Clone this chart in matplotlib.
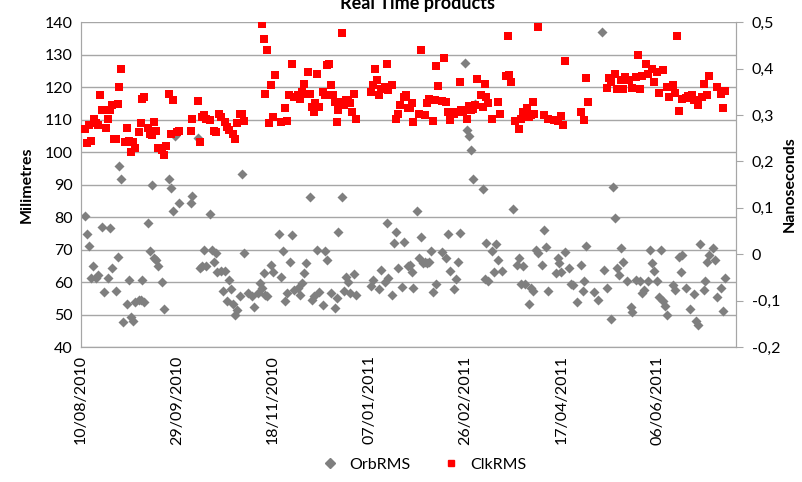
import numpy as np
import matplotlib
matplotlib.use('Agg')
import matplotlib.pyplot as plt
import matplotlib.dates as mdates
from matplotlib.ticker import FuncFormatter, MultipleLocator
from matplotlib.lines import Line2D

plt.rcParams['font.family'] = ['Lato', 'DejaVu Sans']

start = np.datetime64('2010-08-10')

# OrbRMS (mm), day offsets from 10/08/2010
orb_day = [2, 3, 4, 5, 6, 8, 9, 11, 12, 14, 15, 16, 18, 19, 20, 21, 22, 24, 25, 26,
           27, 28, 30, 31, 32, 33, 35, 36, 37, 38, 39, 40, 42, 43, 46, 47, 48, 49, 51, 57,
           58, 61, 62, 63, 64, 65, 67, 68, 69, 70, 71, 73, 74, 75, 76, 77, 78, 79, 80, 81,
           83, 84, 85, 87, 89, 90, 92, 93, 94, 95, 96, 97, 99, 100, 103, 104, 105, 106, 107, 109,
           110, 111, 113, 114, 115, 116, 117, 119, 120, 121, 123, 124, 126, 127, 128, 130, 132, 133, 134, 136,
           137, 138, 139, 140, 142, 143, 151, 152, 155, 156, 158, 159, 160, 162, 163, 164, 165, 167, 168, 170,
           171, 172, 173, 175, 176, 177, 178, 179, 180, 181, 182, 183, 185, 188, 190, 191, 192, 194, 195, 196,
           197, 200, 201, 202, 203, 204, 205, 209, 210, 211, 212, 214, 215, 216, 217, 219, 225, 227, 228, 229,
           230, 231, 233, 234, 235, 237, 238, 240, 241, 242, 243, 247, 248, 249, 250, 252, 254, 255, 256, 258,
           260, 261, 262, 263, 267, 269, 271, 272, 274, 276, 277, 278, 279, 280, 281, 282, 284, 286, 287, 289,
           291, 292, 293, 295, 296, 297, 298, 300, 301, 302, 303, 304, 305, 308, 309, 311, 312, 313, 315, 317,
           319, 320, 321, 322, 324, 325, 326, 327, 329, 330, 331, 333, 334, 335]
orb_mm = [80.3, 74.7, 71.1, 61.4, 64.8, 61.2, 62.2, 76.8, 56.8, 61.4, 76.7, 64.3, 57.1, 67.8, 95.8, 91.7, 47.6, 53.2, 60.5, 49.4,
          48.1, 54.0, 54.5, 54.5, 60.7, 54.0, 78.1, 69.6, 89.8, 67.5, 66.8, 64.8, 59.9, 51.8, 91.6, 89.1, 82.0, 105.0, 84.4, 84.2,
          86.5, 104.5, 64.3, 64.8, 69.9, 64.8, 80.8, 69.9, 66.3, 68.9, 63.2, 63.4, 57.4, 63.4, 54.2, 60.7, 57.9, 53.2, 49.9, 51.5,
          55.6, 93.4, 68.9, 56.6, 55.6, 52.2, 56.6, 59.7, 58.1, 62.7, 55.9, 55.6, 65.3, 63.2, 74.9, 61.7, 69.6, 54.2, 56.6, 66.3,
          74.5, 57.6, 58.1, 56.1, 59.7, 62.7, 65.8, 86.3, 54.5, 55.6, 69.9, 56.9, 53.0, 69.6, 66.8, 56.6, 52.0, 55.0, 75.5, 86.3,
          57.1, 61.7, 60.1, 56.6, 62.4, 56.1, 58.9, 60.7, 57.9, 63.7, 60.1, 78.1, 61.2, 56.1, 71.9, 75.3, 64.3, 58.6, 72.2, 64.8,
          65.1, 63.2, 58.3, 81.9, 67.5, 74.0, 65.8, 66.3, 65.8, 66.3, 69.6, 56.9, 59.3, 69.4, 67.5, 74.7, 63.5, 57.9, 61.0, 66.3,
          75.1, 127.4, 106.7, 105.0, 100.6, 91.7, 114.9, 88.6, 60.9, 72.1, 60.2, 69.7, 63.2, 71.6, 66.8, 63.4, 82.5, 65.3, 67.3, 59.3,
          64.8, 59.3, 53.2, 58.1, 57.1, 69.9, 68.9, 65.1, 76.0, 70.9, 57.1, 62.7, 67.5, 65.8, 63.0, 69.4, 64.3, 59.3, 59.1, 53.8,
          65.1, 57.3, 60.4, 71.2, 56.9, 54.5, 136.9, 63.7, 58.3, 48.7, 89.3, 79.6, 64.3, 62.2, 70.6, 66.1, 60.2, 52.2, 50.7, 60.7,
          60.2, 56.6, 57.6, 60.4, 69.8, 65.8, 63.4, 60.4, 55.3, 69.9, 54.2, 52.5, 49.9, 59.1, 57.6, 67.8, 63.2, 68.4, 58.3, 51.8,
          56.3, 48.1, 46.9, 71.6, 57.6, 60.4, 66.1, 68.4, 70.6, 66.8, 55.3, 58.3, 51.1, 61.4]

# ClkRMS (ns)
clk_day = [2, 3, 4, 5, 7, 8, 9, 10, 11, 13, 14, 15, 16, 17, 18, 19, 20, 21, 23, 24,
           25, 26, 27, 28, 30, 31, 32, 33, 35, 36, 37, 38, 39, 40, 42, 43, 44, 46, 47, 48,
           50, 51, 57, 58, 61, 62, 63, 64, 65, 67, 69, 70, 72, 73, 75, 76, 77, 79, 80, 81,
           83, 84, 85, 94, 95, 96, 97, 98, 99, 100, 101, 104, 106, 107, 108, 110, 111, 113, 114, 115,
           116, 117, 118, 119, 120, 121, 122, 123, 124, 126, 127, 128, 129, 130, 131, 132, 133, 134, 135, 136,
           137, 138, 139, 140, 141, 142, 143, 151, 152, 153, 154, 155, 156, 158, 159, 160, 162, 164, 165, 166,
           168, 169, 170, 171, 172, 173, 176, 177, 179, 180, 181, 183, 184, 185, 186, 188, 189, 190, 191, 192,
           194, 195, 197, 198, 199, 201, 202, 203, 204, 205, 206, 208, 209, 210, 211, 212, 214, 217, 218, 221,
           222, 223, 224, 226, 228, 229, 230, 232, 233, 234, 235, 236, 238, 241, 243, 246, 248, 250, 251, 252,
           260, 262, 263, 264, 274, 275, 276, 278, 279, 281, 282, 283, 285, 287, 289, 290, 291, 292, 294, 295,
           297, 298, 300, 301, 303, 305, 306, 308, 309, 310, 311, 313, 315, 316, 318, 319, 321, 323, 324, 326,
           327, 331, 333, 334, 335]
clk_ns = [0.269, 0.240, 0.278, 0.244, 0.292, 0.282, 0.278, 0.342, 0.310, 0.271, 0.291, 0.310, 0.321, 0.249, 0.249, 0.324, 0.360, 0.400, 0.242, 0.271,
          0.244, 0.221, 0.242, 0.229, 0.264, 0.282, 0.335, 0.339, 0.271, 0.260, 0.256, 0.285, 0.265, 0.228, 0.224, 0.213, 0.233, 0.346, 0.260, 0.332,
          0.264, 0.265, 0.266, 0.292, 0.330, 0.242, 0.296, 0.299, 0.292, 0.289, 0.265, 0.264, 0.303, 0.296, 0.285, 0.274, 0.267, 0.260, 0.248, 0.282,
          0.302, 0.303, 0.287, 0.496, 0.463, 0.346, 0.441, 0.282, 0.364, 0.296, 0.387, 0.285, 0.315, 0.287, 0.342, 0.410, 0.339, 0.342, 0.334, 0.350,
          0.367, 0.346, 0.393, 0.346, 0.317, 0.307, 0.325, 0.389, 0.317, 0.350, 0.342, 0.408, 0.410, 0.364, 0.342, 0.327, 0.285, 0.310, 0.328, 0.477,
          0.321, 0.332, 0.327, 0.325, 0.307, 0.346, 0.291, 0.350, 0.364, 0.400, 0.375, 0.342, 0.357, 0.360, 0.409, 0.353, 0.364, 0.291, 0.303, 0.321,
          0.339, 0.344, 0.314, 0.314, 0.325, 0.285, 0.303, 0.441, 0.299, 0.325, 0.335, 0.287, 0.332, 0.405, 0.362, 0.330, 0.423, 0.328, 0.307, 0.289,
          0.303, 0.307, 0.371, 0.310, 0.307, 0.292, 0.319, 0.310, 0.312, 0.322, 0.378, 0.342, 0.317, 0.367, 0.339, 0.325, 0.291, 0.328, 0.302, 0.384,
          0.471, 0.387, 0.371, 0.287, 0.269, 0.291, 0.307, 0.314, 0.296, 0.299, 0.327, 0.303, 0.489, 0.299, 0.292, 0.289, 0.287, 0.298, 0.278, 0.416,
          0.307, 0.289, 0.380, 0.327, 0.358, 0.380, 0.371, 0.389, 0.357, 0.375, 0.355, 0.382, 0.375, 0.358, 0.382, 0.430, 0.355, 0.385, 0.410, 0.389,
          0.400, 0.372, 0.392, 0.348, 0.398, 0.360, 0.339, 0.364, 0.348, 0.471, 0.308, 0.335, 0.337, 0.341, 0.342, 0.332, 0.322, 0.339, 0.367, 0.342,
          0.384, 0.360, 0.346, 0.315, 0.351]

tick_days = [0, 50, 100, 150, 200, 250, 300]

orb_dates = (start + np.array(orb_day)).astype('datetime64[D]').astype(object)
clk_dates = (start + np.array(clk_day)).astype('datetime64[D]').astype(object)
tick_dates = (start + np.array(tick_days)).astype('datetime64[D]').astype(object)

grid_c = '#a6a6a6'
gray = '#7f7f7f'
red = '#ff0000'

fig = plt.figure(figsize=(8.02, 4.82), dpi=100)
ax = fig.add_axes([0.101, 0.280, 0.817, 0.674])
ax2 = ax.twinx()

ax.scatter(orb_dates, orb_mm, marker='D', s=26, color=gray, linewidths=0, zorder=3)
ax2.scatter(clk_dates, clk_ns, marker='s', s=34, color=red, linewidths=0, zorder=3)

ax.set_xlim(start.astype(object), (start + 341).astype(object))
ax.set_ylim(40, 140)
ax.yaxis.set_major_locator(MultipleLocator(10))
ax2.set_ylim(-0.2, 0.5)
ax2.yaxis.set_major_locator(MultipleLocator(0.1))

def comma(v, pos):
    if abs(v) < 1e-9:
        return '0'
    return ('%.1f' % v).replace('.', ',')
ax2.yaxis.set_major_formatter(FuncFormatter(comma))

ax.set_xticks(tick_dates)
ax.xaxis.set_major_formatter(mdates.DateFormatter('%d/%m/%Y'))
plt.setp(ax.get_xticklabels(), rotation=90)

ax.grid(axis='y', color=grid_c, linewidth=1)
ax.set_axisbelow(True)
for a in (ax, ax2):
    a.spines['top'].set_visible(False)
    for s in ('left', 'right', 'bottom'):
        a.spines[s].set_color(grid_c)
ax.tick_params(axis='both', length=0, labelsize=11.5, pad=6)
ax2.tick_params(axis='y', length=5, color=grid_c, labelsize=11.5, pad=6)

ax.set_ylabel('Milimetres', fontsize=11.5, fontweight='bold', labelpad=8)
ax2.set_ylabel('Nanoseconds', fontsize=11.5, fontweight='bold', labelpad=2)

fig.text(0.52, 0.993, 'Real Time products', ha='center', va='center',
         fontsize=13, fontweight='bold')

handles = [Line2D([], [], marker='D', color=gray, linestyle='', markersize=5),
           Line2D([], [], marker='s', color=red, linestyle='', markersize=5)]
fig.legend(handles, ['OrbRMS', 'ClkRMS'], loc='center', bbox_to_anchor=(0.524, 0.036),
           ncol=2, frameon=False, fontsize=11.5, handletextpad=0.2, columnspacing=1.5)

fig.savefig('out.png', dpi=100)
